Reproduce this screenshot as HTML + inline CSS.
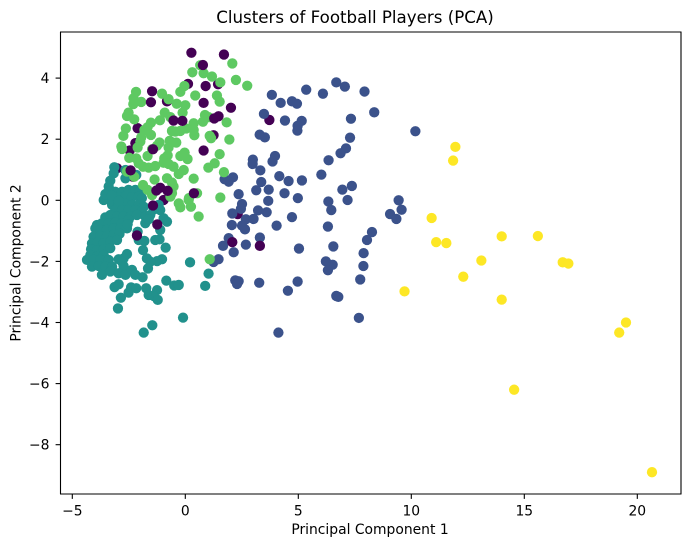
<!DOCTYPE html>
<html lang="en">
<head>
<meta charset="utf-8">
<title>Clusters of Football Players (PCA)</title>
<style>
html,body{margin:0;padding:0;background:#fff;}
svg{display:block;font-family:"DejaVu Sans",sans-serif;fill:#000;}
</style>
</head>
<body>
<svg id="chart" xmlns="http://www.w3.org/2000/svg" width="689" height="547" viewBox="0 0 689 547">
  <rect x="0" y="0" width="689" height="547" fill="#fff"/>
  <text x="355" y="23" font-size="16.67" text-anchor="middle">Clusters of Football Players (PCA)</text>
  <text x="370" y="534" font-size="13.89" text-anchor="middle">Principal Component 1</text>
  <text transform="translate(20.5,263) rotate(-90)" font-size="13.89" text-anchor="middle">Principal Component 2</text>
  <g id="marks"></g>
  <g id="axes"></g>
</svg>
<script>
const xTicks = [-5, 0, 5, 10, 15, 20];
const yTicks = [-8, -6, -4, -2, 0, 2, 4];

const blueX = [3.83,5.35,6.68,7.06,6.09,7.93,4.22,4.72,4.94,8.36,3.48,4.41,5.15,4.97,4.96,7.33,10.18,7.29,3.29,3.52,7.11,6.87,6.34,3.97,3.86,2.99,2.98,3.32,4.16,4.57,5.16,6.02,3.36,2.11,1.92,1.74,3.14,3.69,4.39,2.36,6.95,7.37,4.98,3.67,7.18,6.33,2.51,6.46,2.46,3.22,3.60,2.08,4.72,9.44,9.57,9.06,9.34,2.68,3.02,2.06,2.51,2.64,4.04,6.31,8.26,8.04,3.30,1.92,1.67,2.68,6.55,5.03,2.14,7.89,1.47,1.25,6.22,6.52,6.31,7.88,7.74,2.21,2.36,2.29,3.27,4.97,4.54,6.68,6.77,7.68,4.12];
const blueY = [3.45,3.62,3.86,3.72,3.49,3.56,3.19,3.24,3.16,2.88,2.83,2.61,2.60,2.44,2.28,2.67,2.26,2.05,2.15,2.06,1.70,1.54,1.31,1.45,1.27,1.33,1.19,0.98,0.79,0.63,0.65,0.84,0.60,0.75,0.61,0.69,0.33,0.35,0.23,0.20,0.35,0.47,0.07,-0.02,0.01,-0.04,-0.12,-0.32,-0.28,-0.33,-0.39,-0.43,-0.55,0.00,-0.31,-0.45,-0.61,-0.62,-0.61,-0.81,-0.83,-0.95,-0.83,-0.86,-1.04,-1.30,-1.22,-1.24,-1.49,-1.45,-1.51,-1.58,-1.70,-1.73,-1.93,-2.02,-2.00,-2.11,-2.29,-2.15,-2.59,-2.62,-2.65,-2.74,-2.70,-2.66,-2.96,-3.13,-3.16,-3.85,-4.33];

const tealX = [-3.14,-3.17,-2.65,-2.65,-2.17,-3.32,-3.39,-3.47,-3.61,-3.39,-3.10,-2.80,-2.51,-2.21,-2.04,-3.54,-3.24,-2.95,-2.65,-2.36,-2.06,-1.92,-3.24,-2.95,-2.65,-2.36,-2.06,-1.84,-3.10,-2.80,-2.51,-2.21,-1.92,-1.11,-1.18,-3.54,-3.32,-3.02,-2.73,-2.43,-2.14,-1.77,-1.55,-0.96,-0.81,-3.91,-3.69,-3.39,-3.10,-2.80,-2.51,-1.77,-1.11,-3.98,-3.76,-3.47,-3.17,-2.88,-2.58,-4.06,-3.76,-3.47,-3.17,-2.91,-2.11,-4.13,-3.88,-3.61,-3.32,-3.02,-2.06,-1.81,-1.33,-1.14,-4.17,-3.91,-3.61,-3.32,-1.87,-0.87,-4.20,-3.91,-3.61,-2.58,-2.73,-2.95,-4.35,-4.06,-3.76,-3.39,-1.70,-1.03,-1.25,-1.55,-4.13,-3.83,-3.54,-3.24,-2.80,-2.73,-1.65,-3.69,-3.32,-2.95,-2.65,-2.36,-2.21,-1.89,0.21,1.03,0.88,-0.10,-1.46,-1.84,-2.98,-2.85,-3.13,-2.95,-2.51,-2.40,-2.17,-1.73,-1.25,-1.62,-1.40,-1.22,-0.84,-0.49,-0.29,-3.54,-3.25,-2.95,-2.55,-1.62,-1.40];
const tealY = [1.08,0.88,0.99,0.72,0.83,0.64,0.45,0.23,0.01,0.28,0.28,0.28,0.34,0.34,0.28,0.03,0.07,0.10,0.12,0.10,0.12,0.07,-0.15,-0.15,-0.12,-0.15,-0.15,-0.21,-0.32,-0.32,-0.32,-0.32,-0.37,-0.32,-0.15,-0.56,-0.48,-0.53,-0.53,-0.53,-0.48,-0.53,-0.48,-0.59,-0.70,-0.81,-0.75,-0.75,-0.73,-0.75,-0.64,-0.75,-0.97,-0.92,-0.97,-0.97,-0.92,-0.92,-0.92,-1.19,-1.17,-1.17,-1.13,-1.10,-1.03,-1.41,-1.39,-1.41,-1.35,-1.30,-1.30,-1.33,-1.30,-1.28,-1.60,-1.63,-1.60,-1.57,-1.63,-1.55,-1.79,-1.84,-1.79,-1.76,-1.90,-1.93,-1.95,-1.95,-1.95,-1.95,-1.90,-1.93,-1.99,-2.01,-2.17,-2.15,-2.17,-2.17,-2.01,-2.15,-2.23,-2.44,-2.33,-2.39,-2.44,-2.28,-2.44,-2.52,-2.03,-2.40,-2.80,-3.84,-4.09,-4.33,-3.54,-3.19,-2.84,-2.75,-3.02,-2.85,-2.88,-2.88,-2.94,-3.10,-3.13,-3.26,-2.63,-2.79,-2.77,0.20,0.15,-0.02,-0.78,-0.62,-0.30];

const greenX = [2.08,0.66,0.31,0.81,1.18,1.55,2.24,2.74,-0.04,-0.22,0.44,1.40,1.52,-2.18,-1.03,-2.29,-1.95,-2.30,-0.74,-0.38,0.00,-0.12,-2.51,-2.58,-2.26,-0.91,-0.66,-1.12,0.87,1.03,0.78,1.83,0.37,-1.52,-1.67,-2.63,-1.81,0.04,-0.22,-0.59,-0.44,0.37,0.40,1.08,-2.74,-1.95,-1.52,1.14,1.95,-1.14,-0.69,-0.40,-1.99,-2.83,-2.11,-1.25,-2.80,-0.74,-1.47,1.52,-0.03,-0.22,0.10,-1.67,-2.48,-2.17,-0.78,-0.93,-0.96,-0.74,1.30,1.02,-2.06,-1.87,-1.62,-1.33,-0.52,-0.07,-0.29,0.37,1.71,-1.36,-0.81,-0.59,-0.52,-2.26,-2.58,-1.87,-1.67,-0.59,0.52,0.16,1.55,-0.29,-0.22,0.15,0.25,0.59,-0.66,-1.47,1.08];
const greenY = [4.48,4.42,4.19,4.16,4.05,3.86,3.94,3.75,3.74,3.55,3.43,3.43,3.23,3.55,3.49,3.34,3.22,3.15,3.31,3.16,3.11,2.87,2.87,2.76,2.65,2.87,2.72,2.62,2.79,2.72,2.57,2.55,2.52,2.54,2.39,2.35,2.30,2.35,2.27,2.27,2.25,2.30,2.13,2.11,2.11,2.06,2.14,2.03,1.99,1.89,1.95,1.89,1.92,1.76,1.73,1.79,1.68,1.73,1.67,1.51,1.56,1.45,1.35,1.45,1.39,1.37,1.47,1.37,1.23,1.19,1.21,1.07,1.21,1.10,1.07,1.12,1.10,0.99,0.86,0.71,0.92,0.68,0.72,0.58,0.45,0.77,0.94,0.50,0.34,0.23,0.23,0.07,0.09,-0.10,-0.23,0.01,-0.21,-0.53,0.12,0.17,-1.93];

const purpleBackX = [0.12,1.45,-0.81,-2.11,1.25,-2.21,-2.46,-2.32,-0.96,3.72,2.32,-3.02];
const purpleBackY = [3.81,3.80,3.24,2.36,2.13,1.87,1.63,0.77,0.01,2.63,-0.45,1.05];

const purpleFrontX = [0.27,1.71,0.78,0.90,-1.47,-1.52,0.81,2.02,-0.52,-0.13,1.47,1.28,-1.43,0.81,-2.42,-1.11,-1.28,-0.78,0.38,-1.43,-1.24,-2.14,2.08,3.30];
const purpleFrontY = [4.83,4.77,4.43,3.74,3.57,3.21,3.19,3.03,2.61,2.60,2.75,2.68,1.67,1.63,0.98,0.41,0.32,0.31,0.23,-0.17,-0.79,-1.15,-1.37,-1.49];

const yellowX = [11.95,11.85,10.90,11.10,11.55,12.30,13.10,14.00,15.60,16.70,16.95,9.70,14.00,14.55,19.20,19.50,20.65];
const yellowY = [1.75,1.30,-0.58,-1.37,-1.40,-2.50,-1.97,-1.18,-1.17,-2.03,-2.07,-2.98,-3.25,-6.20,-4.33,-4.00,-8.90];

const NS = 'http://www.w3.org/2000/svg';
const plotLeft = 60.5, plotRight = 681, plotTop = 32, plotBottom = 494;
function xScale(v) { return 185.3 + v * 22.6; }
function yScale(v) { return 200.3 - v * 30.55; }
function fmt(v) { return v < 0 ? '\u2212' + Math.abs(v) : String(v); }

function drawSeries(xs, ys, color) {
  const marks = document.getElementById('marks');
  xs.forEach(function (x, i) {
    const c = document.createElementNS(NS, 'circle');
    c.setAttribute('cx', xScale(x));
    c.setAttribute('cy', yScale(ys[i]));
    c.setAttribute('r', 5.15);
    c.setAttribute('fill', color);
    
    
    marks.appendChild(c);
  });
}

drawSeries(purpleBackX, purpleBackY, '#440154');
drawSeries(tealX, tealY, '#21918c');
drawSeries(blueX, blueY, '#3b528b');
drawSeries(greenX, greenY, '#5ec962');
drawSeries(purpleFrontX, purpleFrontY, '#440154');
drawSeries(yellowX, yellowY, '#fde725');

const axes = document.getElementById('axes');

function addLine(x1, y1, x2, y2, name) {
  const l = document.createElementNS(NS, 'line');
  l.setAttribute('x1', x1);
  l.setAttribute('y1', y1);
  l.setAttribute('x2', x2);
  l.setAttribute('y2', y2);
  l.setAttribute('stroke', '#000');
  l.setAttribute('stroke-width', 1.1);
  
  
  axes.appendChild(l);
}

function addLabel(x, y, str, anchor, name) {
  const t = document.createElementNS(NS, 'text');
  t.setAttribute('x', x);
  t.setAttribute('y', y);
  t.setAttribute('font-size', 13.89);
  t.setAttribute('text-anchor', anchor);
  
  
  t.textContent = str;
  axes.appendChild(t);
}

addLine(plotLeft, plotTop, plotLeft, plotBottom, 'left-spine');
addLine(plotRight, plotTop, plotRight, plotBottom, 'right-spine');
addLine(plotLeft - 0.5, plotTop, plotRight + 0.5, plotTop, 'top-spine');
addLine(plotLeft - 0.5, plotBottom, plotRight + 0.5, plotBottom, 'bottom-spine');

xTicks.forEach(function (v) {
  const x = xScale(v);
  addLine(x, plotBottom, x, plotBottom + 4.9, 'x-tick');
  addLabel(x, 515.5, fmt(v), 'middle', 'x-tick-label');
});

yTicks.forEach(function (v) {
  const y = yScale(v);
  addLine(plotLeft - 4.9, y, plotLeft, y, 'y-tick');
  addLabel(49.5, y + 5, fmt(v), 'end', 'y-tick-label');
});
</script>
</body>
</html>
